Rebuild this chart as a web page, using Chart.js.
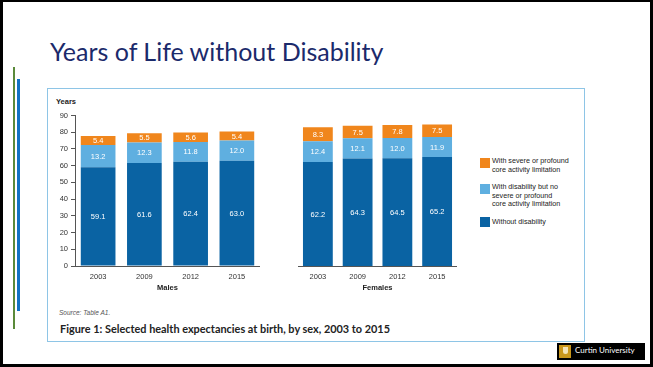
<!DOCTYPE html>
<html>
<head>
<meta charset="utf-8">
<script src="https://cdn.jsdelivr.net/npm/chart.js@4"></script>
<style>
  html, body { margin: 0; padding: 0; background: #fff; }
  #slide { position: relative; width: 653px; height: 367px; box-sizing: border-box;
           border: 3px solid #000; border-top-width: 2px; overflow: hidden; font-family: "Liberation Sans", Arial, sans-serif; }
  .abs { position: absolute; }
  #title { left: 47px; top: 34px; font-family: Lato, sans-serif; font-size: 25px; color: #1b2a6b; white-space: nowrap; }
  #figbox { left: 44px; top: 86px; width: 536px; height: 252px; border: 1.5px solid #8ec5e6; }
  .legend-sw { width: 10px; height: 10px; }
  .legend-tx { font-size: 7.2px; line-height: 8.5px; color: #222; }
  #years { left: 53px; top: 95px; font-size: 7.5px; font-weight: bold; color: #222; }
  #source { left: 56px; top: 307px; font-size: 6.5px; color: #555; font-style: italic; }
  #caption { left: 57px; top: 320px; font-family: Lato, sans-serif; font-size: 10.9px; font-weight: bold; color: #222; white-space: nowrap; }
  #logo { left: 554px; top: 341px; width: 88px; height: 17px; background: #000; }
</style>
</head>
<body>
<div id="slide">
  <div class="abs" style="left:10px;top:65px;width:2px;height:262px;background:#5a8a3a"></div>
  <div class="abs" style="left:14px;top:77px;width:3px;height:232px;background:#1173c3"></div>
  <div id="title" class="abs">Years of Life without Disability</div>
  <div id="figbox" class="abs"></div>
  <div id="years" class="abs">Years</div>
  <div class="abs" style="left:47px;top:93px;width:210px;height:197px"><canvas id="males"></canvas></div>
  <div class="abs" style="left:270px;top:93px;width:184px;height:197px"><canvas id="females"></canvas></div>

  <div class="abs legend-sw" style="left:477px;top:156px;background:#f0861c"></div>
  <div class="abs legend-tx" style="left:489px;top:155px">With severe or profound<br>core activity limitation</div>
  <div class="abs legend-sw" style="left:477px;top:182px;background:#5fafe0"></div>
  <div class="abs legend-tx" style="left:489px;top:181px">With disability but no<br>severe or profound<br>core activity limitation</div>
  <div class="abs legend-sw" style="left:477px;top:215px;background:#0a63a3"></div>
  <div class="abs legend-tx" style="left:489px;top:216px">Without disability</div>

  <div id="source" class="abs">Source: Table A1.</div>
  <div id="caption" class="abs">Figure 1: Selected health expectancies at birth, by sex, 2003 to 2015</div>
  <div id="logo" class="abs">
    <div class="abs" style="left:2px;top:2px;width:12px;height:13px;background:#c9971c"></div>
    <div class="abs" style="left:5.5px;top:4px;width:5px;height:7px;background:#f3e4b8;border-radius:0 0 3px 3px"></div>
    <div class="abs" style="left:18px;top:2px;font-size:8px;color:#fff;white-space:nowrap;font-family:Lato,sans-serif">Curtin University</div>
  </div>
</div>
<script>
let years = ['2003', '2009', '2012', '2015'];
let maleWithout = [59.1, 61.6, 62.4, 63.0];
let maleMild = [13.2, 12.3, 11.8, 12.0];
let maleSevere = [5.4, 5.5, 5.6, 5.4];
let femaleWithout = [62.2, 64.3, 64.5, 65.2];
let femaleMild = [12.4, 12.1, 12.0, 11.9];
let femaleSevere = [8.3, 7.5, 7.8, 7.5];
let yTicks = [0, 10, 20, 30, 40, 50, 60, 70, 80, 90];

let darkBlue = '#0a63a3';
let lightBlue = '#5fafe0';
let orange = '#f0861c';

// white value labels inside each segment
let valueLabels = {
    id: 'valueLabels',
    afterDatasetsDraw(chart) {
        let ctx = chart.ctx;
        ctx.save();
        ctx.fillStyle = '#fff';
        ctx.font = '7.5px "Liberation Sans", Arial, sans-serif';
        ctx.textAlign = 'center';
        ctx.textBaseline = 'middle';
        chart.data.datasets.forEach((ds, i) => {
            chart.getDatasetMeta(i).data.forEach((bar, j) => {
                let mid = (bar.y + bar.base) / 2;
                ctx.fillText(ds.data[j].toFixed(1), bar.x, mid + 0.5);
            });
        });
        ctx.restore();
    }
};

let makeChart = (id, title, without, mild, severe, showY) => {
    let ctx = document.querySelector('#' + id).getContext('2d');
    return new Chart(ctx, {
        type: 'bar',
        data: {
            labels: years,
            datasets: [
                { label: 'Without disability', data: without, backgroundColor: darkBlue },
                { label: 'With disability but no severe or profound core activity limitation', data: mild, backgroundColor: lightBlue },
                { label: 'With severe or profound core activity limitation', data: severe, backgroundColor: orange }
            ]
        },
        options: {
            responsive: true,
            maintainAspectRatio: false,
            animation: false,
            datasets: { bar: { categoryPercentage: 1, barPercentage: 0.75 } },
            layout: { padding: { top: 20.5, left: 0, right: 0, bottom: 0 } },
            plugins: { legend: { display: false }, tooltip: { enabled: false } },
            scales: {
                x: {
                    stacked: true,
                    grid: { display: false, drawTicks: false },
                    border: { display: true, color: '#555', width: 1 },
                    ticks: { color: '#333', font: { size: 7.5, family: '"Liberation Sans", Arial' }, padding: 6 },
                    title: { display: true, text: title, color: '#222', padding: { top: 1, bottom: 0 },
                             font: { size: 7.5, weight: 'bold', family: '"Liberation Sans", Arial' } },
                    afterFit: (s) => { s.height = 26; }
                },
                y: {
                    display: showY,
                    stacked: true,
                    min: 0,
                    max: 90,
                    afterBuildTicks: (s) => { s.ticks = yTicks.map(v => ({ value: v })); },
                    grid: { drawOnChartArea: false, drawTicks: true, tickLength: 4, color: '#555' },
                    border: { display: true, color: '#555', width: 1 },
                    ticks: { color: '#333', font: { size: 7.5, family: '"Liberation Sans", Arial' }, padding: 3 },
                    afterFit: (s) => { s.width = 25; }
                }
            }
        },
        plugins: [valueLabels]
    });
};

makeChart('males', 'Males', maleWithout, maleMild, maleSevere, true);
makeChart('females', 'Females', femaleWithout, femaleMild, femaleSevere, false);
</script>
</body>
</html>
